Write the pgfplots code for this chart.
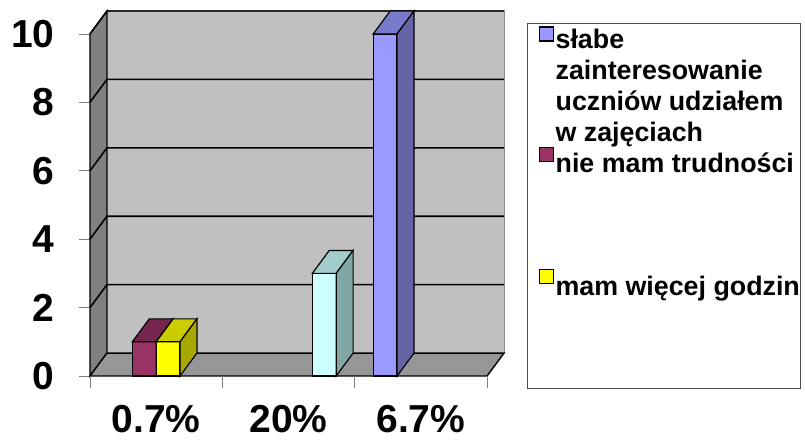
\documentclass[border=0pt]{standalone}
\usepackage{pgfplots}
\pgfplotsset{compat=1.18}
\usepackage{fontspec}
\setmainfont{Liberation Sans}
\definecolor{cBlue}{HTML}{9999FF}
\definecolor{cBlueTop}{HTML}{7A7ACC}
\definecolor{cBlueSide}{HTML}{6363A6}
\definecolor{cMar}{HTML}{993366}
\definecolor{cMarTop}{HTML}{75264F}
\definecolor{cMarSide}{HTML}{5C1F3D}
\definecolor{cYel}{HTML}{FFFF00}
\definecolor{cYelTop}{HTML}{CCCC00}
\definecolor{cYelSide}{HTML}{A8A800}
\definecolor{cCya}{HTML}{CCFFFF}
\definecolor{cCyaTop}{HTML}{A3CCCC}
\definecolor{cCyaSide}{HTML}{80A6A6}
\definecolor{wallBack}{HTML}{C0C0C0}
\definecolor{wallSide}{HTML}{808080}
\definecolor{wallFloor}{HTML}{969696}
\newcommand{\st}{\rule{0pt}{29.5pt}}
\pgfplotsset{sqleg/.style={legend image code/.code={\path (0pt,0pt); \draw[##1, draw=black, line width=1.2pt] (10.5pt,-2.5pt) rectangle (24.5pt,11.5pt);}}}
\begin{document}
\begin{tikzpicture}
\path[use as bounding box] (0pt,0pt) rectangle (805pt,441pt);
\begin{axis}[
  at={(90pt,65pt)}, anchor=south west,
  scale only axis, width=414pt, height=365pt,
  xmin=-0.5, xmax=2.628, ymin=0, ymax=10.67,
  clip=false,
  axis line style={draw=none},
  tick pos=left, tick align=outside,
  ytick={0,2,...,10},
  xtick={0,1,2}, xticklabels={0.7\%,20\%,6.7\%},
  major tick length=11pt,
  ytick style={draw=black!50, line width=0.8pt},
  xtick style={draw=none},
  ticklabel style={font=\fontsize{39}{39}\selectfont\bfseries},
  /pgf/number format/assume math mode=true,
  yticklabel style={xshift=-21pt},
  xticklabel style={inner sep=0pt, yshift=-18.5pt},
  legend style={at={(1.0556,0.967)}, anchor=north west, draw=black!70, line width=0.8pt,
    inner xsep=1pt, inner ysep=3pt, column sep=1.5pt, row sep=0pt,
    nodes={inner xsep=0pt, inner ysep=0pt},
    cells={font=\fontsize{26.8}{30}\selectfont\bfseries, anchor=base west}},
  legend cell align=left,
]
% walls and floor
\addplot[fill=wallBack, draw=black!45, line width=1pt, forget plot] coordinates {(-0.372,0.67) (2.628,0.67) (2.628,10.67) (-0.372,10.67)} -- cycle;
\addplot[black!85, line width=1.2pt, forget plot] coordinates {(-0.372,10.67) (2.628,10.67)};
\addplot[fill=wallSide, draw=black, line width=1.2pt, forget plot] coordinates {(-0.5,0) (-0.372,0.67) (-0.372,10.67) (-0.5,10)} -- cycle;
\addplot[fill=wallFloor, draw=black, line width=1.4pt, forget plot] coordinates {(-0.5,0) (2.5,0) (2.628,0.67) (-0.372,0.67)} -- cycle;
% gridlines
\addplot[black, line width=1.6pt, forget plot, unbounded coords=jump] coordinates {
 (-0.5,2) (-0.372,2.67) (2.628,2.67) (nan,nan)
 (-0.5,4) (-0.372,4.67) (2.628,4.67) (nan,nan)
 (-0.5,6) (-0.372,6.67) (2.628,6.67) (nan,nan)
 (-0.5,8) (-0.372,8.67) (2.628,8.67) (nan,nan)
 (-0.5,10) (-0.372,10.67)};
% category separators below the floor
\addplot[black!50, line width=0.8pt, forget plot, unbounded coords=jump] coordinates {
 (-0.5,0) (-0.5,-0.35) (nan,nan) (0.5,0) (0.5,-0.35) (nan,nan)
 (1.5,0) (1.5,-0.35) (nan,nan) (2.5,0) (2.5,-0.35)};
% blue
\addplot[ybar, bar width=0.18, bar shift=-0.27, fill=cBlue, draw=black, line width=1.2pt, sqleg] coordinates {(2,10)};
\addlegendentry{\rule{0pt}{22pt}słabe}
\addlegendimage{empty legend}\addlegendentry{\st zainteresowanie}
\addlegendimage{empty legend}\addlegendentry{\st uczniów udziałem}
\addlegendimage{empty legend}\addlegendentry{\st w zajęciach}
\addplot[fill=cBlueTop, draw=black, line width=1.2pt, forget plot] coordinates {(1.64,10) (1.82,10) (1.948,10.67) (1.768,10.67)} -- cycle;
\addplot[fill=cBlueSide, draw=black, line width=1.2pt, forget plot] coordinates {(1.82,0) (1.948,0.67) (1.948,10.67) (1.82,10)} -- cycle;
% maroon
\addplot[ybar, bar width=0.18, bar shift=-0.09, fill=cMar, draw=black, line width=1.2pt, sqleg] coordinates {(0,1)};
\addlegendentry{\st nie mam trudności}
\addplot[fill=cMarTop, draw=black, line width=1.2pt, forget plot] coordinates {(-0.18,1) (0,1) (0.128,1.67) (-0.052,1.67)} -- cycle;
\addplot[fill=cMarSide, draw=black, line width=1.2pt, forget plot] coordinates {(0,0) (0.128,0.67) (0.128,1.67) (0,1)} -- cycle;
% empty legend slots
\addlegendimage{empty legend}\addlegendentry{\st}
\addlegendimage{empty legend}\addlegendentry{\st}
\addlegendimage{empty legend}\addlegendentry{\rule{0pt}{28pt}}
% yellow
\addplot[ybar, bar width=0.18, bar shift=0.09, fill=cYel, draw=black, line width=1.2pt, sqleg] coordinates {(0,1)};
\addlegendentry{\st mam więcej godzin}
\addplot[fill=cYelTop, draw=black, line width=1.2pt, forget plot] coordinates {(0,1) (0.18,1) (0.308,1.67) (0.128,1.67)} -- cycle;
\addplot[fill=cYelSide, draw=black, line width=1.2pt, forget plot] coordinates {(0.18,0) (0.308,0.67) (0.308,1.67) (0.18,1)} -- cycle;
% cyan
\addplot[ybar, bar width=0.18, bar shift=0.27, fill=cCya, draw=black, line width=1.2pt, forget plot] coordinates {(1,3)};
\addplot[fill=cCyaTop, draw=black, line width=1.2pt, forget plot] coordinates {(1.18,3) (1.36,3) (1.488,3.67) (1.308,3.67)} -- cycle;
\addplot[fill=cCyaSide, draw=black, line width=1.2pt, forget plot] coordinates {(1.36,0) (1.488,0.67) (1.488,3.67) (1.36,3)} -- cycle;
% trailing legend space
\addlegendimage{empty legend}\addlegendentry{\st}
\addlegendimage{empty legend}\addlegendentry{\st}
\addlegendimage{empty legend}\addlegendentry{\rule{0pt}{25pt}}
\end{axis}
\end{tikzpicture}
\end{document}
